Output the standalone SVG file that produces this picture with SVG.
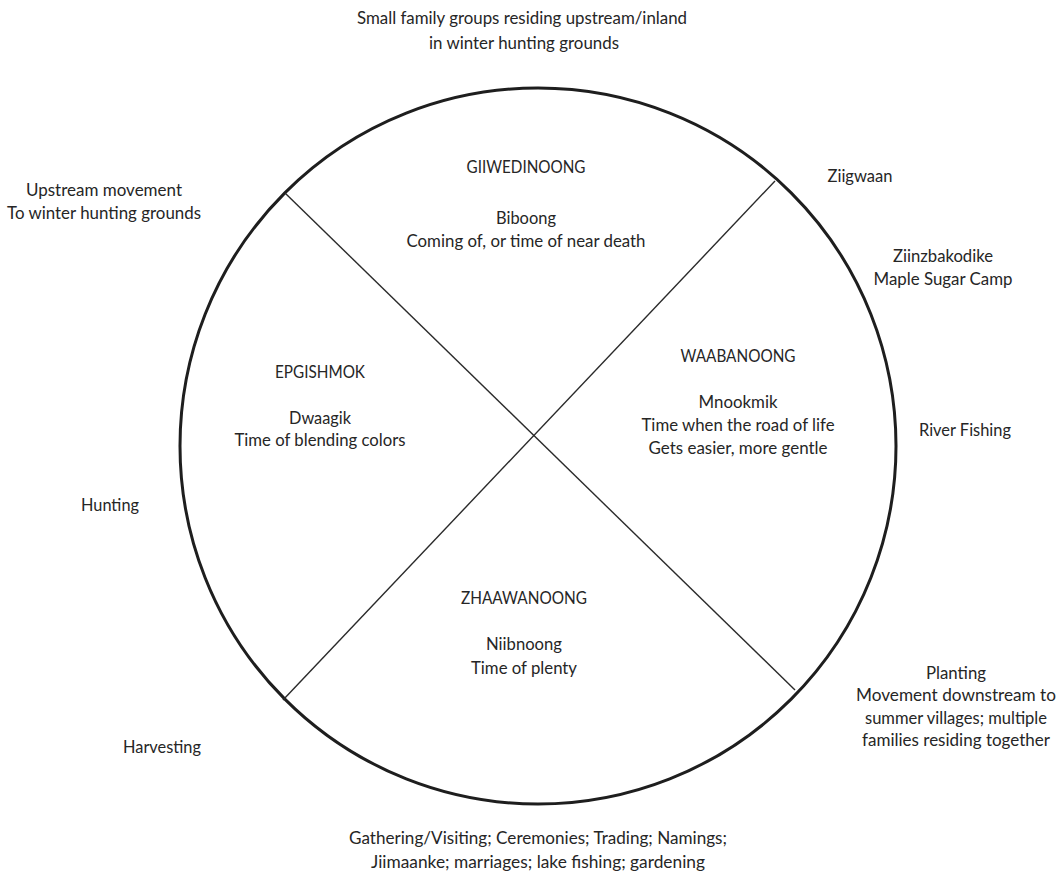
<svg xmlns="http://www.w3.org/2000/svg" width="1061" height="874" viewBox="0 0 1061 874">
  <style>
    text { font-family: Lato, "Open Sans", "Liberation Sans", sans-serif; font-size: 16.5px; fill: #262626; text-anchor: middle; }
    .ring { fill: none; stroke: #1e1e1e; stroke-width: 3; }
    .divider { fill: none; stroke: #2a2a2a; stroke-width: 1.4; }
  </style>
  <rect width="1061" height="874" fill="#ffffff"/>

  <!-- seasonal round -->
  <g id="wheel">
    <circle class="ring" cx="538" cy="446" r="358"/>
  </g>

  <!-- quadrant dividers -->
  <g id="connectors">
    <line class="divider" x1="285" y1="193" x2="795" y2="690"/>
    <line class="divider" x1="775" y1="181" x2="283" y2="700"/>
  </g>

  <!-- north -->
  <g id="giiwedinoong">
    <text x="526" y="173" textLength="119" lengthAdjust="spacingAndGlyphs">GIIWEDINOONG</text>
    <text x="526" y="224" textLength="60" lengthAdjust="spacingAndGlyphs">Biboong</text>
    <text x="526" y="247" textLength="239" lengthAdjust="spacingAndGlyphs">Coming of, or time of near death</text>
  </g>

  <!-- west -->
  <g id="epgishmok">
    <text x="320" y="378" textLength="90" lengthAdjust="spacingAndGlyphs">EPGISHMOK</text>
    <text x="320" y="424" textLength="62" lengthAdjust="spacingAndGlyphs">Dwaagik</text>
    <text x="320" y="446" textLength="171" lengthAdjust="spacingAndGlyphs">Time of blending colors</text>
  </g>

  <!-- east -->
  <g id="waabanoong">
    <text x="738" y="362" textLength="115" lengthAdjust="spacingAndGlyphs">WAABANOONG</text>
    <text x="738" y="408" textLength="79" lengthAdjust="spacingAndGlyphs">Mnookmik</text>
    <text x="738" y="431" textLength="193" lengthAdjust="spacingAndGlyphs">Time when the road of life</text>
    <text x="738" y="454" textLength="179" lengthAdjust="spacingAndGlyphs">Gets easier, more gentle</text>
  </g>

  <!-- south -->
  <g id="zhaawanoong">
    <text x="524" y="604" textLength="126" lengthAdjust="spacingAndGlyphs">ZHAAWANOONG</text>
    <text x="524" y="650" textLength="76" lengthAdjust="spacingAndGlyphs">Niibnoong</text>
    <text x="524" y="674" textLength="106" lengthAdjust="spacingAndGlyphs">Time of plenty</text>
  </g>

  <!-- activities around the ring -->
  <g id="label-winter-grounds">
    <text x="522" y="24" textLength="330" lengthAdjust="spacingAndGlyphs">Small family groups residing upstream/inland</text>
    <text x="524" y="49" textLength="190" lengthAdjust="spacingAndGlyphs">in winter hunting grounds</text>
  </g>
  <g id="label-upstream">
    <text x="104" y="196" textLength="156" lengthAdjust="spacingAndGlyphs">Upstream movement</text>
    <text x="104" y="219" textLength="194" lengthAdjust="spacingAndGlyphs">To winter hunting grounds</text>
  </g>
  <g id="label-ziigwaan">
    <text x="860" y="182" textLength="65" lengthAdjust="spacingAndGlyphs">Ziigwaan</text>
  </g>
  <g id="label-sugar-camp">
    <text x="943" y="262" textLength="100" lengthAdjust="spacingAndGlyphs">Ziinzbakodike</text>
    <text x="943" y="285" textLength="139" lengthAdjust="spacingAndGlyphs">Maple Sugar Camp</text>
  </g>
  <g id="label-river-fishing">
    <text x="965" y="436" textLength="92" lengthAdjust="spacingAndGlyphs">River Fishing</text>
  </g>
  <g id="label-hunting">
    <text x="110" y="511" textLength="58" lengthAdjust="spacingAndGlyphs">Hunting</text>
  </g>
  <g id="label-planting">
    <text x="956" y="679" textLength="60" lengthAdjust="spacingAndGlyphs">Planting</text>
    <text x="956" y="701" textLength="200" lengthAdjust="spacingAndGlyphs">Movement downstream to</text>
    <text x="956" y="724" textLength="182" lengthAdjust="spacingAndGlyphs">summer villages; multiple</text>
    <text x="956" y="746" textLength="188" lengthAdjust="spacingAndGlyphs">families residing together</text>
  </g>
  <g id="label-harvesting">
    <text x="162" y="753" textLength="78" lengthAdjust="spacingAndGlyphs">Harvesting</text>
  </g>
  <g id="label-gathering">
    <text x="538" y="844" textLength="378" lengthAdjust="spacingAndGlyphs">Gathering/Visiting; Ceremonies; Trading; Namings;</text>
    <text x="538" y="868" textLength="334" lengthAdjust="spacingAndGlyphs">Jiimaanke; marriages; lake fishing; gardening</text>
  </g>
</svg>
